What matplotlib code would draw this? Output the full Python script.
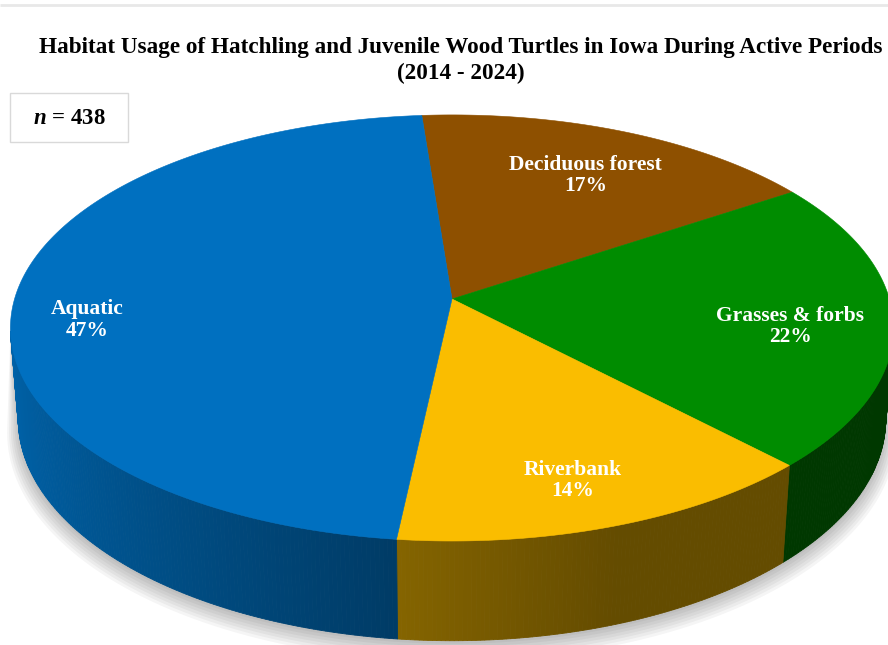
import numpy as np
import matplotlib
matplotlib.use("Agg")
import matplotlib.pyplot as plt
from matplotlib.patches import Polygon, Rectangle
import matplotlib.colors as mcolors

# ---------------- data ----------------
categories = ['Deciduous forest', 'Grasses & forbs', 'Riverbank', 'Aquatic']
percentages = [17, 22, 14, 47]
colors = ['#8E5000', '#008C00', '#FABD00', '#0070C0']
title_text = 'Habitat Usage of Hatchling and Juvenile Wood Turtles in Iowa During Active Periods\n(2014 - 2024)'
n_total = 438

# label placement styles (radial fraction, height below top face)
label_radius = [0.76, 0.77, 0.77, 0.84]
label_drop = [-0.02, -0.025, -0.03, -0.062]

plt.rcParams['mathtext.fontset'] = 'custom'
plt.rcParams['mathtext.rm'] = 'Liberation Serif:bold'
plt.rcParams['mathtext.it'] = 'Liberation Serif:bold:italic'

W, H = 888, 645
fig = plt.figure(figsize=(W / 100, H / 100), dpi=100)
ax = fig.add_axes([0, 0, 1, 1])
ax.set_xlim(0, W)
ax.set_ylim(H, 0)
ax.axis('off')

# ---------------- 3D perspective pie geometry ----------------
CX, CY = 452, 299          # screen position of pie centre
FOCAL = 2826.0
DIST = 6.46
SIN_T = 0.478
COS_T = np.sqrt(1 - SIN_T ** 2)
THICK = 0.24
START = -4.5               # first-slice angle (deg, clockwise from top)


def proj(phi_deg, r=1.0, y=0.0):
    p = np.radians(phi_deg)
    X = r * np.sin(p)
    Z = -r * np.cos(p)
    d = DIST - (Z * COS_T + y * SIN_T)
    sx = FOCAL * X / d
    sy = FOCAL * (y * COS_T - Z * SIN_T) / d
    return CX + sx, CY - sy


def shade(phi_deg):
    b = 0.58 + 0.32 * np.cos(np.radians(phi_deg - 285))
    return max(0.40, b)


fracs = np.array(percentages, dtype=float) / np.sum(percentages)
edges = START + 360 * np.concatenate([[0], np.cumsum(fracs)])


def hull(points):
    pts = sorted(set(points))
    lower, upper = [], []
    for pnt in pts:
        while len(lower) >= 2 and np.cross(np.subtract(lower[-1], lower[-2]), np.subtract(pnt, lower[-2])) <= 0:
            lower.pop()
        lower.append(pnt)
    for pnt in reversed(pts):
        while len(upper) >= 2 and np.cross(np.subtract(upper[-1], upper[-2]), np.subtract(pnt, upper[-2])) <= 0:
            upper.pop()
        upper.append(pnt)
    return lower[:-1] + upper[:-1]


# soft shadow beneath the disc
angles_full = np.linspace(0, 360, 361)
for k in range(7):
    rr = 1.0 + 0.0045 * (6 - k)
    pts = [tuple(np.round(proj(a, rr, -THICK - 0.004 * (6 - k)), 3)) for a in angles_full]
    pts += [tuple(np.round(proj(a, 1.0, 0.0), 3)) for a in angles_full]
    hp = hull(pts)
    hp = [(x, y + 3) for x, y in hp]
    ax.add_patch(Polygon(hp, closed=True, facecolor='black', edgecolor='none', alpha=0.04, zorder=1))

# side walls (front-facing only)
zlim = 1.0 / (DIST * COS_T) - 0.03
for i, col in enumerate(colors):
    a0, a1 = edges[i], edges[i + 1]
    n = max(2, int(abs(a1 - a0) / 0.5))
    aa = np.linspace(a0, a1, n + 1)
    base = np.array(mcolors.to_rgb(col))
    for j in range(n):
        m = 0.5 * (aa[j] + aa[j + 1])
        if -np.cos(np.radians(m)) < zlim:
            continue
        c = np.clip(base * shade(m), 0, 1)
        quad = [proj(aa[j]), proj(aa[j + 1]), proj(aa[j + 1], 1, -THICK), proj(aa[j], 1, -THICK)]
        ax.add_patch(Polygon(quad, closed=True, facecolor=c, edgecolor=c, lw=0.6, zorder=2))

# top faces
for i, col in enumerate(colors):
    a0, a1 = edges[i], edges[i + 1]
    aa = np.linspace(a0, a1, 200)
    pts = [proj(0, 0.0)] + [proj(a) for a in aa]
    ax.add_patch(Polygon(pts, closed=True, facecolor=col, edgecolor=col, lw=0.4, zorder=3))

# data labels
for i, cat in enumerate(categories):
    mid = 0.5 * (edges[i] + edges[i + 1])
    lx, ly = proj(mid, label_radius[i], label_drop[i])
    ax.text(lx, ly, f'{cat}\n{percentages[i]}%', ha='center', va='center', ma='center',
            color='white', fontsize=15.5, fontweight='bold', family='Liberation Serif',
            linespacing=1.1, zorder=5)

# title
ax.text(461, 84, title_text, ha='center', va='bottom', ma='center', fontsize=16.7,
        fontweight='bold', family='Liberation Serif', linespacing=1.27, color='black', zorder=5)

# sample size box
ax.add_patch(Rectangle((10, 93), 118, 49, facecolor='white', edgecolor='#D9D9D9', lw=1.0, zorder=4))
ax.text(69, 118, f'$n$ = {n_total}', ha='center', va='center', fontsize=16.5,
        fontweight='bold', family='Liberation Serif', color='black', zorder=5)

# faint separator line at top
ax.plot([0, W], [5, 5], color='#E8E8E8', lw=2, zorder=0, solid_capstyle='butt')

fig.savefig('out.png', dpi=100, facecolor='white')
